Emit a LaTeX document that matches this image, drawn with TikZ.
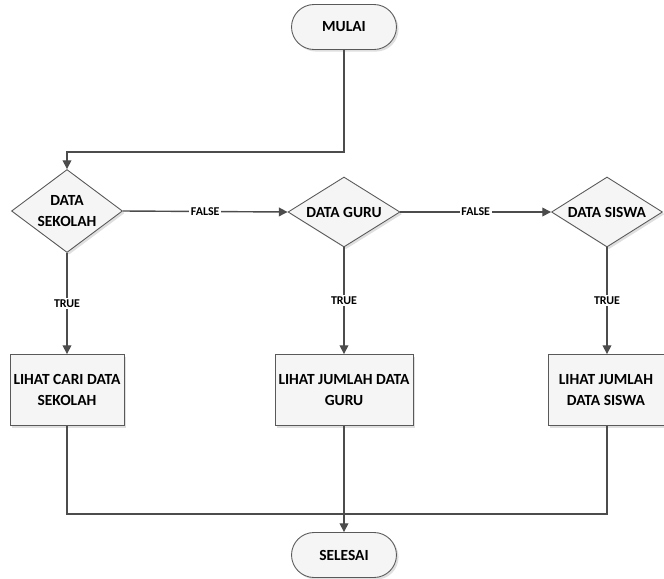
\documentclass[tikz,border=0pt]{standalone}
\usepackage{fontspec}
\setmainfont{Carlito}
\usetikzlibrary{shapes.geometric, shapes.misc, shadows, arrows.meta}

\begin{document}
\begin{tikzpicture}[x=0.02cm, y=-0.02cm, >={Triangle[length=5pt, width=5pt]},
    line/.style={draw=black!70, line width=0.8pt},
    box/.style={draw=black!65, line width=0.5pt, fill=black!4, align=center,
        font=\bfseries\fontsize{8.8}{11.5}\selectfont, inner sep=2pt,
        drop shadow={shadow xshift=1.2pt, shadow yshift=-1.2pt, opacity=0.25}},
    terminal/.style={box, rounded rectangle, minimum width=2.24cm, minimum height=0.9cm},
    decision/.style={box, diamond, inner sep=0pt, aspect=1.5},
    process/.style={box, rectangle, minimum height=1.42cm},
    answer/.style={fill=white, inner sep=1pt, font=\bfseries\fontsize{6.8}{8}\selectfont}]
    \useasboundingbox (0,0) rectangle (664,579);

    % Start and end
    \node[terminal] (mulai) at (344,27) {MULAI};
    \node[terminal] (selesai) at (344,555) {SELESAI};

    % Decisions
    \node[decision, minimum width=2.22cm, minimum height=1.66cm] (sekolah) at (67,211) {DATA\\SEKOLAH};
    \node[decision, minimum width=2.24cm, minimum height=1.4cm] (guru) at (344,212) {DATA GURU};
    \node[decision, minimum width=2.22cm, minimum height=1.4cm] (siswa) at (607,212) {DATA SISWA};

    % Processes
    \node[process, minimum width=2.22cm] (lihatsekolah) at (67,390) {LIHAT CARI DATA\\SEKOLAH};
    \node[process, minimum width=2.62cm] (lihatguru) at (344,390) {LIHAT JUMLAH DATA\\GURU};
    \node[process, minimum width=2.32cm] (lihatsiswa) at (606,390) {LIHAT JUMLAH\\DATA SISWA};

    \coordinate (bend) at (206,152);
    \coordinate (join) at (344,514);

    % Connectors
    \draw[line, ->] (mulai.south) |- (bend) -| (sekolah.north);
    \draw[line, ->] (sekolah.east) -- node[answer] {FALSE} (guru.west);
    \draw[line, ->] (guru.east) -- node[answer] {FALSE} (siswa.west);
    \draw[line, ->] (sekolah.south) -- node[answer] {TRUE} (lihatsekolah.north);
    \draw[line, ->] (guru.south) -- node[answer] {TRUE} (lihatguru.north);
    \draw[line, ->] (siswa.south) -- node[answer] {TRUE} (lihatsiswa.north -| siswa.south);
    \draw[line] (lihatsekolah.south) |- (join);
    \draw[line] (lihatsiswa.south -| siswa.south) |- (join);
    \draw[line, ->] (lihatguru.south) -- (selesai.north);
\end{tikzpicture}
\end{document}
